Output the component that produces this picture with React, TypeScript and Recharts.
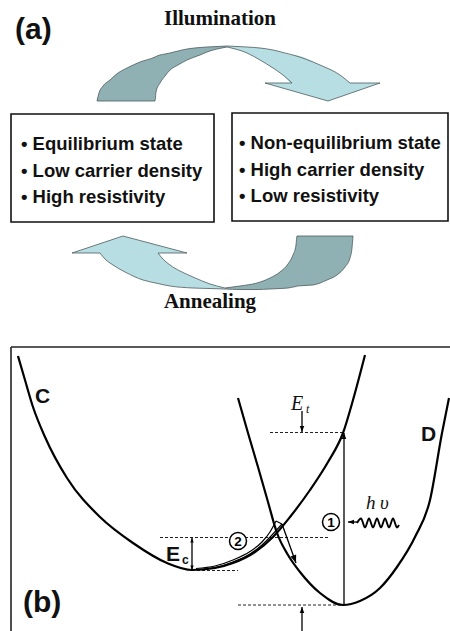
import React from 'react';
import { ComposedChart, XAxis, YAxis, Line, Area, Scatter, ReferenceLine, ReferenceArea } from 'recharts';

const W = 450;
const H = 631;

type P = { x: number; y: number };
const pts = (a: number[][]): P[] => a.map(([x, y]) => ({ x, y }));
const band = (a: number[][]) => a.map(([x, lo, hi]) => ({ x, r: [lo, hi] }));

// ---------- panel (b): energy curves ----------
const curveC = pts([
  [18, 356], [25, 380], [33, 407], [45, 437], [67, 478], [100, 517], [133, 543], [167, 563],
  [192, 570], [215, 568], [233, 563], [255, 552], [273, 537], [290, 517], [310, 490],
  [328, 462], [343, 433], [353, 400], [365, 355],
]);
const curveD = pts([
  [238, 398], [248, 433], [258, 467], [268, 502], [277, 533], [288, 555], [300, 572],
  [320, 593], [343, 605], [360, 601], [380, 588], [397, 567], [415, 537], [430, 500],
  [442, 433], [449, 398],
]);
// path (2) loop
const loopUpper = pts([[196, 568.5], [215, 566], [233, 560], [250, 551.5], [262, 542], [270, 532], [276, 521]]);
const loopLower = pts([[199, 569.5], [215, 567.5], [233, 562], [250, 554], [262, 545], [272, 535], [282, 524]]);
// photon wave
const wave = pts([
  [357, 523], [361, 518.5], [365, 527.5], [369, 518.5], [373, 527.5], [377, 518.5], [381, 527.5],
  [385, 518.5], [389, 527.5], [393, 518.5], [397, 527.5], [399, 525],
]);

// dashed energy levels [x1, x2, y]
const levels = [
  [270, 343, 432.5],
  [160, 328, 537.5],
  [197, 238, 570.5],
  [238, 343, 605],
];
// arrows [x1, y1, x2, y2, headSize]
const arrows = [
  [302, 411, 302, 432, 6],
  [302, 631, 302, 607, 6],
  [344, 605, 344, 433, 6],
  [357, 522, 348, 522, 6],
  [282, 524, 296, 563, 8],
  [192, 554, 192, 538, 4.5],
  [192, 554, 192, 570, 4.5],
];
// plain segments [x1, y1, x2, y2]
const plainSegs = [
  [276, 521, 282, 524],
];
const frameB = [
  [11, 347, 450, 347],
  [11, 347, 11, 631],
];
const circled = [
  { x: 331, y: 522, t: '1' },
  { x: 238, y: 541, t: '2' },
];

// ---------- panel (a): boxes and cyclic arrows ----------
const boxes = [
  [11, 114, 214, 222],
  [232, 113, 448, 221],
];
// upper arrow (illumination)
const upDark = band([
  [97, 101, 101], [99, 93, 101], [103, 86, 101], [110, 80, 101], [118, 73, 101], [127, 68, 101],
  [140, 62, 101], [155, 57, 101], [156, 56.5, 92], [160, 55, 83], [165, 54, 76], [170, 53, 70],
  [178, 51, 65], [187, 49, 60], [200, 47.5, 55], [207, 47, 52], [227, 46, 47],
]);
const upLightBody = band([
  [227, 46, 47], [247, 47, 53], [260, 48, 60], [273, 50, 68], [283, 52.5, 75], [292, 55, 83],
  [293, 55, 83], [320, 65, 83], [340, 75, 83], [350, 83, 83],
]);
const upLightOuter = pts([[227, 46], [247, 47], [260, 48], [273, 50], [283, 52.5], [293, 55], [320, 65], [340, 75], [350, 83]]);
const upLightInner = pts([[227, 47], [247, 53], [260, 60], [273, 68], [283, 75], [292, 83]]);
const upHead = band([[265, 83, 83], [328, 83, 101], [380, 83, 83]]);
const upHeadSegs = [
  [265, 83, 292, 83],
  [350, 83, 380, 83],
  [265, 83, 328, 101],
  [328, 101, 380, 83],
];
// lower arrow (annealing)
const lowLightBody = band([
  [100, 253, 253], [105, 253, 259], [113, 253, 265], [125, 253, 272], [143, 253, 280],
  [158, 253, 283.5], [162, 258, 284.5], [170, 265, 286], [180, 271, 287], [193, 277, 288],
  [210, 284, 288.5], [225, 288, 289],
]);
const lowLightOuter = pts([[100, 253], [105, 259], [113, 265], [125, 272], [143, 280], [158, 283.5], [170, 286], [193, 288], [210, 288.5], [225, 289]]);
const lowLightInner = pts([[158, 253], [162, 258], [170, 265], [180, 271], [193, 277], [210, 284], [225, 288]]);
const lowHead = band([[72, 253, 253], [123, 236, 253], [187, 253, 253]]);
const lowHeadSegs = [
  [72, 253, 123, 236],
  [123, 236, 187, 253],
  [72, 253, 100, 253],
  [158, 253, 187, 253],
];
const lowDark = band([
  [225, 288, 289], [240, 286, 289.5], [257, 283, 289.5], [270, 278, 289], [280, 272, 288.5],
  [288, 264, 288], [293, 255, 287], [296, 245, 286.5], [297, 236, 286], [313, 236, 285],
  [327, 236, 280], [337, 236, 275], [345, 236, 267], [350, 236, 258], [352, 236, 248], [353, 236, 236],
]);

// ---------- texts ----------
const labels = [
  { x: 15, y: 39, t: '(a)', k: 'panel' },
  { x: 220, y: 25, t: 'Illumination', k: 'title' },
  { x: 210, y: 308, t: 'Annealing', k: 'title' },
  { x: 21, y: 150, t: '• Equilibrium state', k: 'box' },
  { x: 21, y: 177, t: '• Low carrier density', k: 'box' },
  { x: 21, y: 203, t: '• High resistivity', k: 'box' },
  { x: 239, y: 149, t: '• Non-equilibrium state', k: 'box' },
  { x: 239, y: 176, t: '• High carrier density', k: 'box' },
  { x: 239, y: 202, t: '• Low resistivity', k: 'box' },
  { x: 23, y: 612, t: '(b)', k: 'panel' },
  { x: 35, y: 403, t: 'C', k: 'curve' },
  { x: 421, y: 441, t: 'D', k: 'curve' },
  { x: 166, y: 561, t: 'E', k: 'curve' },
  { x: 182, y: 564, t: 'c', k: 'sub' },
  { x: 291, y: 410, t: 'E', k: 'italBig' },
  { x: 306, y: 413, t: 't', k: 'italSub' },
  { x: 366, y: 509, t: 'h', k: 'ital' },
  { x: 380, y: 509, t: 'υ', k: 'ital' },
];

const SANS = '"Liberation Sans", Arial, Helvetica, sans-serif';
const SERIF = '"Liberation Serif", "Times New Roman", serif';
const STYLES: Record<string, any> = {
  panel: { fontFamily: SANS, fontWeight: 700, fontSize: 30 },
  title: { fontFamily: SERIF, fontWeight: 700, fontSize: 21, textAnchor: 'middle' },
  box: { fontFamily: SANS, fontWeight: 700, fontSize: 18.5 },
  curve: { fontFamily: SANS, fontWeight: 700, fontSize: 21 },
  sub: { fontFamily: SANS, fontWeight: 700, fontSize: 12 },
  ital: { fontFamily: SERIF, fontStyle: 'italic', fontSize: 19 },
  italBig: { fontFamily: SERIF, fontStyle: 'italic', fontSize: 20 },
  italSub: { fontFamily: SERIF, fontStyle: 'italic', fontSize: 12 },
};

const heads = arrows.map(([x1, y1, x2, y2, s]) => ({
  x: x2, y: y2, s, a: (Math.atan2(y2 - y1, x2 - x1) * 180) / Math.PI,
}));

const DARK = '#8fb1b4';
const LIGHT = '#b7dee3';
const EDGE = '#4d5b5d';

const renderLabel = (p: any) => {
  const d = p.payload;
  const st = STYLES[d.k] || {};
  return (
    <text x={p.cx} y={p.cy} fill="#111" {...st}>
      {d.t}
    </text>
  );
};
const renderHead = (p: any) => {
  const d = p.payload;
  const s = d.s;
  return (
    <polygon
      points={`0,0 ${-s},${-s * 0.38} ${-s},${s * 0.38}`}
      transform={`translate(${p.cx},${p.cy}) rotate(${d.a})`}
      fill="#000"
    />
  );
};
const renderCircled = (p: any) => (
  <g>
    <circle cx={p.cx} cy={p.cy} r={8.5} fill="#fff" stroke="#000" strokeWidth={1.5} />
    <text x={p.cx} y={p.cy + 4.8} textAnchor="middle" fontFamily={SANS} fontWeight={700} fontSize={13.5} fill="#000">
      {p.payload.t}
    </text>
  </g>
);

const seg = (s: number[], key: string, props: any) => (
  <ReferenceLine
    key={key}
    segment={[{ x: s[0], y: s[1] }, { x: s[2], y: s[3] }]}
    ifOverflow="visible"
    {...props}
  />
);

const curveLine = (data: P[], key: string, stroke: string, width: number, type: any = 'monotone') => (
  <Line
    key={key}
    data={data}
    dataKey="y"
    type={type}
    stroke={stroke}
    strokeWidth={width}
    dot={false}
    activeDot={false}
    isAnimationActive={false}
    legendType="none"
  />
);

const bandArea = (data: any[], key: string, fill: string, stroke: string, type: any = 'monotone') => (
  <Area
    key={key}
    data={data}
    dataKey="r"
    type={type}
    fill={fill}
    fillOpacity={1}
    stroke={stroke}
    strokeWidth={0.8}
    dot={false}
    activeDot={false}
    isAnimationActive={false}
    legendType="none"
  />
);

export default function App() {
  return (
    <div style={{ position: 'absolute', left: 0, top: 0, width: W, height: H, background: '#fff' }}>
      <ComposedChart width={W} height={H} margin={{ top: 0, right: 0, bottom: 0, left: 0 }}>
        <XAxis type="number" dataKey="x" domain={[0, W]} allowDataOverflow hide />
        <YAxis type="number" dataKey="y" domain={[0, H]} allowDataOverflow reversed hide />

        {boxes.map((b, i) => (
          <ReferenceArea
            key={'box' + i}
            x1={b[0]}
            x2={b[2]}
            y1={b[1]}
            y2={b[3]}
            fill="#fff"
            fillOpacity={1}
            stroke="#111"
            strokeWidth={1.6}
            ifOverflow="visible"
          />
        ))}

        {bandArea(upDark, 'upDark', DARK, EDGE)}
        {bandArea(upLightBody, 'upLB', LIGHT, 'none')}
        {bandArea(upHead, 'upH', LIGHT, 'none', 'linear')}
        {curveLine(upLightOuter, 'upLO', EDGE, 0.8)}
        {curveLine(upLightInner, 'upLI', EDGE, 0.8)}
        {upHeadSegs.map((s, i) => seg(s, 'uhs' + i, { stroke: EDGE, strokeWidth: 0.8 }))}

        {bandArea(lowDark, 'lowDark', DARK, EDGE)}
        {bandArea(lowLightBody, 'lowLB', LIGHT, 'none')}
        {bandArea(lowHead, 'lowH', LIGHT, 'none', 'linear')}
        {curveLine(lowLightOuter, 'lowLO', EDGE, 0.8)}
        {curveLine(lowLightInner, 'lowLI', EDGE, 0.8)}
        {lowHeadSegs.map((s, i) => seg(s, 'lhs' + i, { stroke: EDGE, strokeWidth: 0.8 }))}

        {frameB.map((s, i) => seg(s, 'fr' + i, { stroke: '#222', strokeWidth: 1.6 }))}
        {levels.map((l, i) =>
          seg([l[0], l[2], l[1], l[2]], 'lv' + i, { stroke: '#222', strokeWidth: 1, strokeDasharray: '3 2' })
        )}
        {arrows.map((a, i) => seg(a, 'ar' + i, { stroke: '#000', strokeWidth: 1.3 }))}
        {plainSegs.map((s, i) => seg(s, 'ps' + i, { stroke: '#000', strokeWidth: 1.2 }))}

        {curveLine(curveC, 'C', '#000', 2.2)}
        {curveLine(curveD, 'D', '#000', 2.2)}
        {curveLine(loopUpper, 'loopU', '#000', 1.2)}
        {curveLine(loopLower, 'loopL', '#000', 1.2)}
        {curveLine(wave, 'wave', '#000', 1.9)}

        <Scatter data={heads} shape={renderHead} isAnimationActive={false} legendType="none" />
        <Scatter data={circled} shape={renderCircled} isAnimationActive={false} legendType="none" />
        <Scatter data={labels} shape={renderLabel} isAnimationActive={false} legendType="none" />
      </ComposedChart>
    </div>
  );
}
